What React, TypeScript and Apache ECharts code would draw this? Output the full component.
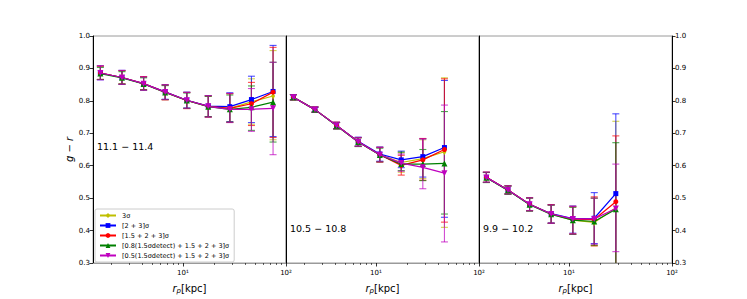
import React, { useEffect, useRef } from "react";
import * as echarts from "echarts";

// projected radius r_p [kpc] of the bins
const X = [1.58, 2.56, 4.15, 6.72, 10.9, 17.6, 28.5, 46.2, 74.9];

const SERIES_NAMES = [
  "3σ",
  "[2 + 3]σ",
  "[1.5 + 2 + 3]σ",
  "[0.8(1.5σdetect) + 1.5 + 2 + 3]σ",
  "[0.5(1.5σdetect) + 1.5 + 2 + 3]σ",
];
const COLORS = ["#bfbf00", "#0000ff", "#ff0000", "#008000", "#bf00bf"];
const PANEL_LABELS = ["11.1 − 11.4", "10.5 − 10.8", "9.9 − 10.2"];
const Y_TICKS = [0.3, 0.4, 0.5, 0.6, 0.7, 0.8, 0.9, 1.0];
const X_MAJOR = [10, 100];
const X_MINOR = [2, 3, 4, 5, 6, 7, 8, 9, 20, 30, 40, 50, 60, 70, 80, 90];

// Panel 1: 11.1 - 11.4 (order: 3σ, [2+3], [1.5+2+3], [0.8..], [0.5..])
const p1Val = [
  [0.886, 0.872, 0.853, 0.827, 0.802, 0.783, 0.777, 0.797, 0.815],
  [0.886, 0.872, 0.853, 0.828, 0.802, 0.784, 0.782, 0.804, 0.829],
  [0.886, 0.872, 0.853, 0.827, 0.801, 0.783, 0.777, 0.791, 0.827],
  [0.884, 0.871, 0.852, 0.826, 0.801, 0.782, 0.774, 0.78, 0.796],
  [0.886, 0.872, 0.853, 0.827, 0.802, 0.783, 0.774, 0.774, 0.777],
];
const p1Lo = [
  [0.866, 0.852, 0.834, 0.804, 0.777, 0.751, 0.735, 0.728, 0.68],
  [0.865, 0.851, 0.833, 0.805, 0.778, 0.751, 0.736, 0.733, 0.69],
  [0.866, 0.852, 0.834, 0.803, 0.776, 0.75, 0.734, 0.724, 0.687],
  [0.866, 0.852, 0.834, 0.804, 0.777, 0.751, 0.734, 0.709, 0.673],
  [0.865, 0.851, 0.833, 0.804, 0.777, 0.75, 0.733, 0.706, 0.634],
];
const p1Hi = [
  [0.907, 0.893, 0.873, 0.849, 0.826, 0.815, 0.822, 0.868, 0.955],
  [0.908, 0.894, 0.874, 0.85, 0.827, 0.816, 0.825, 0.876, 0.971],
  [0.907, 0.893, 0.875, 0.849, 0.826, 0.815, 0.822, 0.857, 0.965],
  [0.903, 0.89, 0.871, 0.847, 0.824, 0.814, 0.818, 0.846, 0.919],
  [0.908, 0.894, 0.874, 0.849, 0.826, 0.816, 0.823, 0.838, 0.919],
];

// Panel 2: 10.5 - 10.8
const p2Val = [
  [0.811, 0.773, 0.724, 0.674, 0.634, 0.61, 0.622, 0.643],
  [0.811, 0.773, 0.724, 0.675, 0.636, 0.618, 0.628, 0.656],
  [0.811, 0.773, 0.724, 0.674, 0.634, 0.601, 0.618, 0.65],
  [0.811, 0.773, 0.723, 0.673, 0.633, 0.605, 0.605, 0.607],
  [0.811, 0.773, 0.724, 0.674, 0.634, 0.608, 0.595, 0.577],
];
const p2Lo = [
  [0.803, 0.765, 0.714, 0.66, 0.612, 0.58, 0.56, 0.41],
  [0.803, 0.765, 0.714, 0.661, 0.614, 0.594, 0.565, 0.441],
  [0.803, 0.765, 0.714, 0.66, 0.611, 0.571, 0.555, 0.426],
  [0.803, 0.765, 0.713, 0.659, 0.612, 0.585, 0.554, 0.451],
  [0.803, 0.765, 0.714, 0.66, 0.612, 0.583, 0.529, 0.365],
];
const p2Hi = [
  [0.819, 0.781, 0.734, 0.686, 0.656, 0.64, 0.68, 0.871],
  [0.819, 0.781, 0.734, 0.688, 0.658, 0.645, 0.683, 0.863],
  [0.819, 0.781, 0.734, 0.687, 0.657, 0.632, 0.684, 0.868],
  [0.819, 0.781, 0.733, 0.686, 0.654, 0.642, 0.65, 0.767],
  [0.819, 0.781, 0.734, 0.687, 0.656, 0.636, 0.683, 0.787],
];

// Panel 3: 9.9 - 10.2
const p3Val = [
  [0.564, 0.525, 0.481, 0.451, 0.432, 0.425, 0.47],
  [0.564, 0.525, 0.481, 0.452, 0.437, 0.438, 0.514],
  [0.564, 0.525, 0.481, 0.451, 0.435, 0.434, 0.489],
  [0.563, 0.524, 0.48, 0.45, 0.432, 0.428, 0.466],
  [0.564, 0.525, 0.481, 0.451, 0.436, 0.436, 0.468],
];
const p3Lo = [
  [0.549, 0.513, 0.461, 0.422, 0.388, 0.353, 0.22],
  [0.549, 0.513, 0.461, 0.424, 0.392, 0.36, 0.25],
  [0.549, 0.513, 0.461, 0.423, 0.39, 0.353, 0.27],
  [0.548, 0.512, 0.46, 0.422, 0.388, 0.355, 0.2],
  [0.549, 0.513, 0.461, 0.422, 0.389, 0.358, 0.335],
];
const p3Hi = [
  [0.58, 0.538, 0.501, 0.479, 0.472, 0.5, 0.737],
  [0.58, 0.538, 0.501, 0.48, 0.476, 0.517, 0.76],
  [0.58, 0.538, 0.501, 0.48, 0.475, 0.504, 0.692],
  [0.579, 0.537, 0.5, 0.478, 0.472, 0.5, 0.671],
  [0.58, 0.538, 0.501, 0.479, 0.474, 0.5, 0.605],
];

const PANELS = [
  { val: p1Val, lo: p1Lo, hi: p1Hi },
  { val: p2Val, lo: p2Lo, hi: p2Hi },
  { val: p3Val, lo: p3Lo, hi: p3Hi },
];

const SYMBOLS = [
  "path://M0,-10L5,0L0,10L-5,0Z",
  "rect",
  "circle",
  "triangle",
  "path://M0,0L10,0L5,9Z",
];
const SYMBOL_SIZES: any[] = [[4, 7], 5, 5, 6, 6];

const FONT = "DejaVu Sans";
const GRID_LEFT = [93, 286, 479];
const GRID_W = 193;
const GRID_TOP = 36;
const GRID_H = 230;
const X_MIN = 1.34;
const X_MAX = 100;

function buildOption() {
  const grid = GRID_LEFT.map((l) => ({
    left: l,
    top: GRID_TOP,
    width: GRID_W,
    height: GRID_H,
    show: true,
    borderColor: "#9a9a9a",
    borderWidth: 1,
  }));

  const xAxis: any[] = [];
  GRID_LEFT.forEach((_, i) => {
    xAxis.push({
      type: "log",
      gridIndex: i,
      min: X_MIN,
      max: X_MAX,
      position: "bottom",
      axisLine: { show: true, lineStyle: { color: "#9a9a9a", width: 1 } },
      axisTick: { show: true, length: 3.5, customValues: X_MAJOR, lineStyle: { color: "#000", width: 0.8 } },
      axisLabel: {
        show: true,
        customValues: X_MAJOR,
        margin: 6,
        fontSize: 7,
        fontFamily: FONT,
        color: "#000",
        formatter: (v: number) => (Math.abs(v - 10) < 1e-6 ? "10¹" : "10²"),
      },
      splitLine: { show: false },
      minorTick: { show: false },
      name: "{i|r}{s|p}{n|[kpc]}",
      nameLocation: "middle",
      nameGap: 19,
      nameTextStyle: {
        rich: {
          i: { fontSize: 10, fontStyle: "italic", fontFamily: FONT, color: "#000" },
          s: { fontSize: 7, fontStyle: "italic", fontFamily: FONT, color: "#000", padding: [5, 0, 0, 0] },
          n: { fontSize: 10, fontFamily: FONT, color: "#000" },
        },
      },
    });
  });
  GRID_LEFT.forEach((_, i) => {
    xAxis.push({
      type: "log",
      gridIndex: i,
      min: X_MIN,
      max: X_MAX,
      position: "bottom",
      axisLine: { show: false },
      axisTick: { show: true, length: 2, customValues: X_MINOR, lineStyle: { color: "#000", width: 0.6 } },
      axisLabel: { show: false },
      splitLine: { show: false },
    });
  });

  const yBase = {
    type: "value",
    min: 0.3,
    max: 1.0,
    interval: 0.1,
    splitLine: { show: false },
  };
  const yLabel = {
    show: true,
    margin: 3,
    fontSize: 7,
    fontFamily: FONT,
    color: "#000",
    customValues: Y_TICKS,
    formatter: (v: number) => v.toFixed(1),
  };
  const yAxis: any[] = [
    {
      ...yBase,
      gridIndex: 0,
      position: "left",
      axisLine: { show: true, lineStyle: { color: "#000", width: 1 } },
      axisTick: { show: true, length: 3.5, lineStyle: { color: "#000", width: 0.8 } },
      axisLabel: yLabel,
      name: "g − r",
      nameLocation: "middle",
      nameGap: 19,
      nameRotate: 90,
      nameTextStyle: { fontSize: 10, fontStyle: "italic", fontFamily: FONT, color: "#000" },
    },
    {
      ...yBase,
      gridIndex: 1,
      position: "left",
      axisLine: { show: true, lineStyle: { color: "#000", width: 1 } },
      axisTick: { show: false },
      axisLabel: { show: false },
    },
    {
      ...yBase,
      gridIndex: 2,
      position: "left",
      axisLine: { show: true, lineStyle: { color: "#000", width: 1 } },
      axisTick: { show: false },
      axisLabel: { show: false },
    },
    {
      ...yBase,
      gridIndex: 2,
      position: "right",
      axisLine: { show: true, lineStyle: { color: "#000", width: 1 } },
      axisTick: { show: true, length: 3.5, lineStyle: { color: "#000", width: 0.8 } },
      axisLabel: yLabel,
    },
  ];

  const series: any[] = [];
  PANELS.forEach((panel, pi) => {
    SERIES_NAMES.forEach((name, si) => {
      const color = COLORS[si];
      const n = panel.val[si].length;
      const errData = [];
      const lineData = [];
      for (let k = 0; k < n; k++) {
        errData.push([X[k], panel.lo[si][k], panel.hi[si][k]]);
        lineData.push([X[k], panel.val[si][k]]);
      }
      series.push({
        type: "custom",
        name: name + "-err-" + pi,
        xAxisIndex: pi,
        yAxisIndex: pi,
        data: errData,
        encode: { x: 0, y: [1, 2] },
        z: 2 + si * 0.1,
        silent: true,
        renderItem: (params: any, api: any) => {
          const x = api.value(0);
          const lo = api.value(1);
          const hi = api.value(2);
          const pLo = api.coord([x, lo]);
          const pHi = api.coord([x, hi]);
          const cs = params.coordSys;
          const top = cs.y;
          const bot = cs.y + cs.height;
          const yHi = Math.max(pHi[1], top);
          const yLo = Math.min(pLo[1], bot);
          const cx = pLo[0];
          const st = { stroke: color, lineWidth: 1.1, opacity: 0.7 };
          const children: any[] = [
            { type: "line", shape: { x1: cx, y1: yLo, x2: cx, y2: yHi }, style: st },
          ];
          if (pHi[1] >= top)
            children.push({ type: "line", shape: { x1: cx - 3.5, y1: pHi[1], x2: cx + 3.5, y2: pHi[1] }, style: st });
          if (pLo[1] <= bot)
            children.push({ type: "line", shape: { x1: cx - 3.5, y1: pLo[1], x2: cx + 3.5, y2: pLo[1] }, style: st });
          return { type: "group", children };
        },
      });
      series.push({
        type: "line",
        name,
        xAxisIndex: pi,
        yAxisIndex: pi,
        data: lineData,
        symbol: SYMBOLS[si],
        symbolSize: SYMBOL_SIZES[si],
        showAllSymbol: true,
        color,
        itemStyle: { color },
        lineStyle: { color, width: 1.2 },
        z: 3 + si * 0.1,
        silent: true,
      });
    });
  });

  const graphic = PANEL_LABELS.map((t, i) => ({
    type: "text",
    left: [97, 290, 483][i],
    top: [141, 223, 223][i],
    style: { text: t, fontSize: 9.5, fontFamily: FONT, fill: "#000" },
    z: 10,
  }));

  return {
    animation: false,
    grid,
    xAxis,
    yAxis,
    series,
    graphic,
    legend: {
      data: SERIES_NAMES,
      orient: "vertical",
      left: 95,
      top: 209,
      padding: [3, 5, 3, 4],
      itemGap: 3,
      itemWidth: 16,
      itemHeight: 6,
      backgroundColor: "rgba(255,255,255,0.85)",
      borderColor: "#cccccc",
      borderWidth: 1,
      borderRadius: 2,
      selectedMode: false,
      textStyle: { fontSize: 6.5, fontFamily: FONT, color: "#000", padding: [0, 0, 0, 1] },
      z: 20,
    },
  };
}

export default function App() {
  const ref = useRef<HTMLDivElement>(null);
  useEffect(() => {
    if (!ref.current) return;
    const chart = echarts.init(ref.current, undefined, { renderer: "svg" });
    chart.setOption(buildOption() as any);
    return () => chart.dispose();
  }, []);
  return (
    <div
      ref={ref}
      style={{ position: "absolute", left: 0, top: 0, width: 747, height: 299, background: "#fff" }}
    />
  );
}
